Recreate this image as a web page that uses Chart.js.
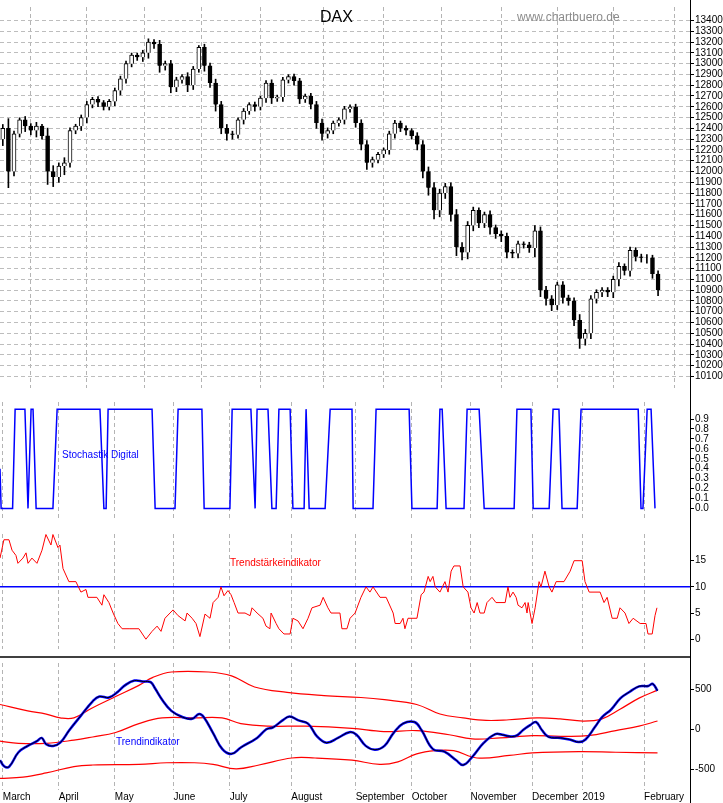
<!DOCTYPE html>
<html>
<head>
<meta charset="utf-8">
<script src="https://cdn.jsdelivr.net/npm/chart.js@4/dist/chart.umd.min.js"></script>
<style>
  body { margin: 0; background: #fff; width: 723px; height: 803px; position: relative; overflow: hidden; }
  canvas { position: absolute; left: 0; }
</style>
</head>
<body>
<canvas id="price" style="top:0" width="723" height="395"></canvas>
<canvas id="stoch" style="top:395px" width="723" height="132"></canvas>
<canvas id="strength" style="top:527px" width="723" height="129"></canvas>
<canvas id="trend" style="top:656px" width="723" height="147"></canvas>
<script>
// x axis unit = trading day since 1 March 2018
const monthDays = [0, 20, 40, 61, 81, 103, 126, 146, 167, 189, 207, 229];
const monthNames = ['March', 'April', 'May', 'June', 'July', 'August', 'September', 'October', 'November', 'December', '2019', 'February'];

// DAX closes, one candle every 2 trading days
const closes = [12400, 12000, 12350, 12480, 12420, 12380, 12420, 12330, 12000, 11950,
  12050, 12080, 12380, 12420, 12500, 12620, 12670, 12640, 12600, 12650,
  12750, 12860, 13000, 13080, 13060, 13100, 13200, 13180, 12980, 13000,
  12780, 12850, 12880, 12800, 12950, 13150, 12980, 12820, 12620, 12400,
  12350, 12340, 12480, 12560, 12620, 12600, 12680, 12820, 12680, 12690,
  12850, 12880, 12840, 12670, 12700, 12620, 12450, 12350, 12380, 12450,
  12480, 12580, 12600, 12450, 12250, 12080, 12110, 12160, 12200, 12350,
  12450, 12400, 12380, 12330, 12250, 12000, 11850, 11640, 11800, 11860,
  11600, 11300, 11250, 11500, 11640, 11520, 11600, 11480, 11420, 11400,
  11250, 11240, 11330, 11320, 11290, 11450, 10900, 10820, 10760, 10950,
  10830, 10800, 10620, 10450, 10500, 10820, 10880, 10900, 10880, 11000,
  11120, 11080, 11270, 11210, 11200, 11200, 11050, 10900];
const firstOpen = 12300;
const wicks = [60, 150, 40, 30, 50, 40, 60, 30, 120, 90,
  50, 80, 40, 30, 40, 50, 30, 40, 30, 30,
  40, 40, 40, 30, 30, 40, 50, 40, 60, 40,
  50, 40, 30, 60, 40, 30, 50, 40, 60, 50,
  60, 40, 30, 40, 30, 40, 30, 40, 50, 30,
  40, 30, 40, 40, 30, 40, 50, 60, 40, 30,
  30, 40, 30, 40, 50, 60, 40, 30, 30, 40,
  40, 30, 40, 30, 50, 60, 70, 80, 60, 50,
  60, 80, 70, 60, 50, 40, 40, 60, 40, 50,
  50, 40, 40, 30, 40, 80, 60, 60, 50, 40,
  50, 40, 50, 90, 60, 50, 40, 40, 40, 50,
  60, 40, 50, 40, 40, 50, 40, 50];
const priceTicks = [];
for (let v = 10100; v <= 13400; v += 100) priceTicks.push(v);

const stochastic = [[-1,0.4],[-0.6,0],[3.5,0],[4.4,1],[7.9,1],[9,0],[10.1,1],[10.8,1],[11.9,0],[17.9,0],
  [19.4,1],[34.7,1],[36.1,0],[36.9,0],[37.6,1],[53.3,1],[54.4,0],[61.5,0],[62.6,1],[71.1,1],
  [71.9,0],[81.1,0],[81.9,1],[88.6,1],[90.1,0],[90.8,1],[94.7,1],[96.1,0],[97.6,0],[98.6,1],
  [102.6,1],[103.6,0],[107.6,0],[108.3,1],[109.4,0],[115.1,0],[116.9,1],[124.7,1],[125.1,0],[132.2,0],
  [133.3,1],[145.1,1],[146.1,0],[155.1,0],[156.1,1],[156.9,1],[158.3,0],[164.7,0],[165.8,1],[170.1,1],
  [171.9,0],[182.6,0],[183.6,1],[188.6,1],[189.4,0],[195.1,0],[196.5,1],[198.6,1],[199.7,0],[205.1,0],
  [206.5,1],[226.9,1],[227.9,0],[228.6,0],[230.1,1],[231.5,1],[232.9,0]];
const stochTicks = [0, 0.1, 0.2, 0.3, 0.4, 0.5, 0.6, 0.7, 0.8, 0.9];

const strength = [[-1,15.5],[0.4,19],[2.2,19],[3.3,17],[4.7,16],[5.4,14.5],[7.2,15.5],[8.3,16.5],[9,14.5],[10.4,15.5],
  [12.2,14.5],[14,17],[15.4,20],[17.2,18],[17.9,20],[19.7,17.5],[20.4,18],[21.5,13.5],[23.6,11],[26.1,11],
  [27.9,9],[29.7,9.5],[30.4,8],[33.6,8],[35.4,6.5],[36.1,8.5],[37.9,7],[39.4,5],[41.1,3],[42.6,2],
  [45.4,2],[48.6,2],[51.1,0],[53.3,1.5],[55.1,2.5],[56.5,1.5],[57.9,4],[59.7,5],[60.8,5.6],[62.6,4.5],
  [65.1,3.5],[65.8,5],[67.6,4],[69,3],[70.4,0.5],[72.2,4.8],[74,4],[75.1,7],[76.9,8],[77.9,10],
  [79,8.3],[80.4,9.3],[81.5,8.5],[82.6,7],[84,5],[86.5,5],[88.3,4.5],[89,6],[90.8,5],[92.9,4],
  [94,2.5],[95.4,2],[95.8,5],[97.6,3],[98.6,2],[100.4,1],[102.6,1],[103.6,4],[105.4,3.5],[107.2,2],
  [109,4],[110.4,6],[113.3,6.5],[114.4,8],[116.1,6],[117.2,5],[120.4,5],[121.1,2],[122.9,2],[124,4],
  [125.8,5],[127.9,8],[129.7,10],[131.1,9],[132.2,10],[134.7,8],[136.9,8],[139.4,5],[140.1,3],[141.9,3],
  [142.9,4],[143.6,2],[144.7,4],[147.9,4],[149.4,8.5],[150.4,9],[151.9,12],[152.6,11],[153.6,12],[154.4,10],
  [156.1,9],[157.9,11],[159,9],[160.1,13],[161.1,14],[163.3,14],[164.4,10],[166.1,9],[167.2,6],[168.3,5],
  [169.4,7],[170.4,5],[171.9,5],[172.9,7],[174.7,8],[176.1,7],[179.4,7],[180.4,10],[181.1,8],[182.2,9],
  [183.3,8],[184,6.5],[185.4,6],[186.5,7],[187.2,5],[187.6,7],[189,3],[190.1,6],[191.5,11],[192.2,10],
  [193.6,13],[195.1,10],[196.1,9],[197.6,11],[200.4,11],[202.6,13],[204,15],[206.9,15],[207.9,11],[209.4,9],
  [213.3,9],[214.7,7],[215.8,8],[217.6,4],[219.4,4],[220.4,6],[222.2,5],[223.6,3],[225.1,4],[227.6,3],
  [229.7,3],[230.4,1],[231.9,1],[232.9,4.5],[233.6,6]];
const strengthLevel = 10;
const strengthTicks = [0, 5, 10, 15];

const trend = [[-1,-388],[0.6,-468],[2.3,-468],[5.6,-288],[8.9,-208],[12.2,-148],[13.9,-108],[15.5,-188],[18,-208],[20.5,-168],
  [23.8,-8],[27.9,172],[32.1,352],[34.5,412],[37.9,400],[41.1,472],[43.6,552],[47,612],[50.3,600],[52.8,592],
  [54.4,512],[56.9,372],[60.2,232],[64.3,152],[67.6,132],[70.1,192],[71.8,152],[75.1,-48],[78.4,-248],[81.7,-308],
  [85,-228],[90.8,-108],[94.1,0],[96.5,24],[99.9,112],[102.4,160],[105.6,112],[109,72],[112.2,-88],[115.6,-168],
  [119.7,-108],[123.8,-36],[126.3,-68],[129.6,-208],[132.9,-256],[136.3,-208],[139.5,-48],[142.9,72],[147,92],[149.5,-8],
  [153.6,-248],[157.7,-280],[161.9,-388],[164.4,-448],[167.6,-348],[171.8,-168],[175.9,-60],[178.4,-68],[180.9,-88],[183.4,-80],
  [185.8,-8],[188.3,52],[190.4,92],[192.5,-8],[194.9,-96],[199.1,-108],[202.4,-128],[205.7,-160],[208.1,-128],[211.5,32],
  [214,152],[217.3,252],[220.6,392],[223.9,472],[227.2,540],[230.5,544],[232.1,572],[233.8,484]];
const bandUpper = [[-1,312],[8.9,232],[15.5,192],[20.5,144],[25.4,144],[32.1,272],[40.3,412],[48.6,552],[53.6,652],[60.2,720],
  [73.4,720],[81.7,672],[89.9,532],[101.5,464],[114.7,424],[127.9,400],[136.3,372],[147.8,312],[156.1,192],[164.4,144],
  [172.6,112],[180.8,120],[190.8,144],[199,132],[207.2,104],[214,132],[220.4,252],[227.2,392],[233.8,492]];
const bandMiddle = [[-1,-148],[5.6,-176],[15.5,-176],[25.4,-136],[32.1,-96],[40.3,-40],[48.6,72],[56.9,144],[68.4,144],[78.3,144],
  [85,72],[94.9,40],[108.1,40],[124.7,12],[136.1,-28],[147.8,-16],[159.4,-68],[167.6,-120],[177.6,-108],[189.1,-80],
  [199.1,-88],[209,-80],[218.9,-16],[227.2,40],[233.8,104]];
const bandLower = [[-1,-616],[7.2,-600],[15.5,-548],[25.4,-468],[32.1,-448],[48.6,-440],[58.5,-420],[68.4,-420],[75.1,-440],[83.3,-496],
  [91.5,-448],[103.2,-360],[111.5,-360],[124.7,-388],[134.6,-440],[141.1,-408],[147.8,-308],[154.4,-268],[161,-268],[169.3,-360],
  [180.9,-328],[189.1,-296],[205.7,-280],[218.9,-288],[233.8,-296]];
const trendTicks = [-500, 0, 500];

const X_MIN = -1, X_MAX = 245.4, AXIS_W = 33;
const FONT = 'Liberation Sans, Arial, sans-serif';
Chart.defaults.font.family = FONT;
Chart.defaults.font.size = 10;
Chart.defaults.color = '#000';
Chart.defaults.animation = false;
Chart.defaults.responsive = false;

const pts = arr => arr.map(p => ({ x: p[0], y: p[1] }));

function xScale(showLabels) {
  return {
    type: 'linear', min: X_MIN, max: X_MAX,
    afterBuildTicks: s => { s.ticks = monthDays.map(v => ({ value: v })); },
    afterFit: s => { s.height = showLabels ? 13 : 0; },
    grid: { color: '#b4b4b4', lineWidth: 1, drawTicks: false },
    border: { display: false, dash: [4, 3] },
    ticks: {
      display: showLabels, padding: 1, align: 'start', autoSkip: false, maxRotation: 0,
      callback: (v, i) => monthNames[i]
    }
  };
}
function yScale(min, max, ticks, fmt, grid) {
  return {
    type: 'linear', position: 'right', min: min, max: max,
    afterBuildTicks: s => { s.ticks = ticks.map(v => ({ value: v })); },
    afterFit: s => { s.width = AXIS_W; },
    grid: grid ? { color: '#bdbdbd', drawTicks: true, tickColor: '#000', tickLength: 4, tickBorderDash: [] }
               : { display: true, drawOnChartArea: false, tickColor: '#000', tickLength: 4 },
    border: { display: false, dash: grid ? [4, 3] : [] },
    ticks: { padding: 1, autoSkip: false, callback: fmt, font: { size: 10 } }
  };
}
// solid right axis line and text labels
function decoPlugin(items, topLine) {
  return {
    id: 'deco',
    afterDraw(chart) {
      const ctx = chart.ctx, a = chart.chartArea;
      ctx.save();
      ctx.strokeStyle = '#000'; ctx.lineWidth = 1;
      ctx.beginPath(); ctx.moveTo(a.right + 0.5, 0); ctx.lineTo(a.right + 0.5, chart.height); ctx.stroke();
      if (topLine) {
        ctx.lineWidth = 1.5;
        ctx.beginPath(); ctx.moveTo(0, 1); ctx.lineTo(a.right, 1); ctx.stroke();
      }
      items.forEach(t => {
        ctx.font = t.font; ctx.fillStyle = t.color; ctx.textBaseline = 'middle';
        ctx.fillText(t.text, t.x, t.y);
      });
      ctx.restore();
    }
  };
}

// price panel
const bodies = [], wickBars = [], bodyFill = [];
closes.forEach((c, k) => {
  const o = k === 0 ? firstOpen : closes[k - 1];
  bodies.push({ x: k * 2, y: [o, c] });
  wickBars.push({ x: k * 2, y: [Math.min(o, c) - wicks[k], Math.max(o, c) + wicks[k] * 0.6] });
  bodyFill.push(c < o ? '#000' : '#fff');
});

new Chart(document.getElementById('price'), {
  type: 'bar',
  data: {
    datasets: [
      { data: wickBars, backgroundColor: '#000', barThickness: 1, grouped: false, order: 2 },
      { data: bodies, backgroundColor: bodyFill, borderColor: '#000', borderWidth: 1, barThickness: 4, grouped: false, order: 1 }
    ]
  },
  options: {
    layout: { padding: 0 },
    plugins: { legend: { display: false }, tooltip: { enabled: false } },
    scales: { x: Object.assign(xScale(false), { offset: false }), y: yScale(9993, 13525, priceTicks, v => v, true) }
  },
  plugins: [decoPlugin([
    { text: 'DAX', x: 320, y: 18, font: '16px ' + FONT, color: '#000' },
    { text: 'www.chartbuero.de', x: 517, y: 18, font: '12px ' + FONT, color: '#8c8c8c' }
  ])]
});

// stochastic panel
new Chart(document.getElementById('stoch'), {
  type: 'line',
  data: { datasets: [{ data: pts(stochastic), borderColor: '#0000ff', borderWidth: 1.5, pointRadius: 0, tension: 0 }] },
  options: {
    layout: { padding: 0 },
    plugins: { legend: { display: false }, tooltip: { enabled: false } },
    scales: { x: xScale(false), y: yScale(-0.117, 1.072, stochTicks, v => v.toFixed(1), false) }
  },
  plugins: [decoPlugin([{ text: 'Stochastik Digital', x: 62, y: 60, font: '10px ' + FONT, color: '#0000ff' }])]
});

// trend strength panel
new Chart(document.getElementById('strength'), {
  type: 'line',
  data: {
    datasets: [
      { data: pts(strength), borderColor: '#ff0000', borderWidth: 1, pointRadius: 0, tension: 0 },
      { data: [{ x: X_MIN, y: strengthLevel }, { x: X_MAX, y: strengthLevel }], borderColor: '#0000ff', borderWidth: 1.5, pointRadius: 0 }
    ]
  },
  options: {
    layout: { padding: 0 },
    plugins: { legend: { display: false }, tooltip: { enabled: false } },
    scales: { x: xScale(false), y: yScale(-1.87, 20.1, strengthTicks, v => v, false) }
  },
  plugins: [decoPlugin([{ text: 'Trendstärkeindikator', x: 230, y: 36, font: '10px ' + FONT, color: '#ff0000' }])]
});

// trend panel: blue underlay drawn first (higher order), black line on top
new Chart(document.getElementById('trend'), {
  type: 'line',
  data: {
    datasets: [
      { data: pts(trend), borderColor: '#000', borderWidth: 1, pointRadius: 0, tension: 0.4, order: 0 },
      { data: pts(trend), borderColor: '#0000ff', borderWidth: 2.5, pointRadius: 0, tension: 0.4, order: 1 },
      { data: pts(bandUpper), borderColor: '#ff0000', borderWidth: 1.2, pointRadius: 0, tension: 0.4, order: 2 },
      { data: pts(bandMiddle), borderColor: '#ff0000', borderWidth: 1.2, pointRadius: 0, tension: 0.4, order: 2 },
      { data: pts(bandLower), borderColor: '#ff0000', borderWidth: 1.2, pointRadius: 0, tension: 0.4, order: 2 }
    ]
  },
  options: {
    layout: { padding: 0 },
    plugins: { legend: { display: false }, tooltip: { enabled: false } },
    scales: { x: xScale(true), y: yScale(-762, 833, trendTicks, v => v, false) }
  },
  plugins: [decoPlugin([{ text: 'Trendindikator', x: 116, y: 86, font: '10px ' + FONT, color: '#0000ff' }], true)]
});
</script>
</body>
</html>
